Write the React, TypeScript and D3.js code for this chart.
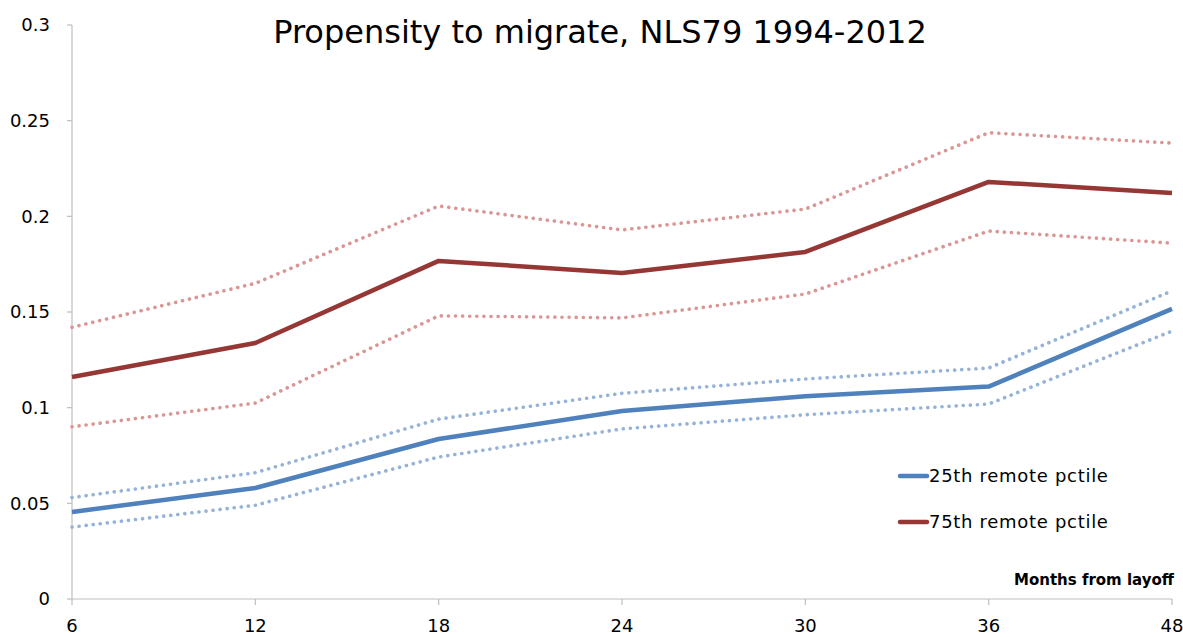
import React, { useEffect, useRef } from "react";
import * as d3 from "d3";

const months = ["6", "12", "18", "24", "30", "36", "48"];
const yTicks = [0, 0.05, 0.1, 0.15, 0.2, 0.25, 0.3];

const low25 = [0.0455, 0.058, 0.0836, 0.0983, 0.106, 0.111, 0.1516];
const low25Upper = [0.053, 0.066, 0.094, 0.1075, 0.115, 0.1207, 0.161];
const low25Lower = [0.0376, 0.049, 0.0742, 0.0889, 0.0963, 0.1019, 0.140];

const high75 = [0.116, 0.1338, 0.1767, 0.1704, 0.1814, 0.218, 0.2122];
const high75Upper = [0.142, 0.165, 0.2054, 0.1929, 0.2038, 0.2437, 0.2383];
const high75Lower = [0.090, 0.1024, 0.148, 0.1469, 0.1594, 0.1923, 0.186];

const W = 1183;
const H = 637;
const FONT = "'DejaVu Sans', sans-serif";

const App = () => {
  const ref = useRef<SVGSVGElement>(null);

  useEffect(() => {
    if (!ref.current) return;
    const svg = d3.select(ref.current);
    svg.selectAll("*").remove();

    const x = d3.scalePoint<string>().domain(months).range([72, 1172]);
    const y = d3.scaleLinear().domain([0, 0.3]).range([599, 25]);

    // axes
    const axisColor = "#bfbfbf";
    svg.append("line")
      .attr("x1", 72).attr("x2", 72).attr("y1", y(0.3)).attr("y2", y(0))
      .attr("stroke", axisColor).attr("stroke-width", 1.2);
    svg.append("line")
      .attr("x1", 72).attr("x2", 1172).attr("y1", y(0)).attr("y2", y(0))
      .attr("stroke", axisColor).attr("stroke-width", 1.2);

    svg.append("g").selectAll("line").data(yTicks).join("line")
      .attr("x1", 67).attr("x2", 72)
      .attr("y1", (d) => y(d)).attr("y2", (d) => y(d))
      .attr("stroke", axisColor).attr("stroke-width", 1.2);
    svg.append("g").selectAll("text").data(yTicks).join("text")
      .attr("x", 50).attr("y", (d) => y(d))
      .attr("dy", "0.35em")
      .attr("text-anchor", "end")
      .attr("font-family", FONT).attr("font-size", 18)
      .text((d) => String(d));

    svg.append("g").selectAll("line").data(months).join("line")
      .attr("x1", (d) => x(d)!).attr("x2", (d) => x(d)!)
      .attr("y1", y(0)).attr("y2", y(0) + 6)
      .attr("stroke", axisColor).attr("stroke-width", 1.2);
    svg.append("g").selectAll("text").data(months).join("text")
      .attr("x", (d) => x(d)!).attr("y", 632)
      .attr("text-anchor", "middle")
      .attr("font-family", FONT).attr("font-size", 18)
      .text((d) => d);

    const line = d3.line<number>()
      .x((_, i) => x(months[i])!)
      .y((d) => y(d));

    const series = [
      { data: low25Upper, color: "#95b3d7", dotted: true },
      { data: low25Lower, color: "#95b3d7", dotted: true },
      { data: high75Upper, color: "#d99694", dotted: true },
      { data: high75Lower, color: "#d99694", dotted: true },
      { data: low25, color: "#4f81bd", dotted: false },
      { data: high75, color: "#953735", dotted: false },
    ];

    svg.append("g").selectAll("path").data(series).join("path")
      .attr("d", (s) => line(s.data))
      .attr("fill", "none")
      .attr("stroke", (s) => s.color)
      .attr("stroke-width", (s) => (s.dotted ? 3.6 : 4.5))
      .attr("stroke-linecap", (s) => (s.dotted ? "round" : "butt"))
      .attr("stroke-linejoin", "round")
      .attr("stroke-dasharray", (s) => (s.dotted ? "0.1 7" : null));

    // title
    svg.append("text")
      .attr("x", 600).attr("y", 43)
      .attr("text-anchor", "middle")
      .attr("font-family", FONT).attr("font-size", 32)
      .text("Propensity to migrate, NLS79 1994-2012");

    // legend
    const legend = [
      { label: "25th remote pctile", color: "#4f81bd" },
      { label: "75th remote pctile", color: "#953735" },
    ];
    const lg = svg.append("g").selectAll("g").data(legend).join("g")
      .attr("transform", (_, i) => `translate(900, ${476 + i * 46})`);
    lg.append("line")
      .attr("x1", 0).attr("x2", 27)
      .attr("stroke", (d) => d.color).attr("stroke-width", 4.5)
      .attr("stroke-linecap", "round");
    lg.append("text")
      .attr("x", 29).attr("dy", "0.35em")
      .attr("font-family", FONT).attr("font-size", 18)
      .attr("letter-spacing", 0.7)
      .text((d) => d.label);

    svg.append("text")
      .attr("x", 1174).attr("y", 585)
      .attr("text-anchor", "end")
      .attr("font-family", FONT).attr("font-size", 15).attr("font-weight", "bold")
      .text("Months from layoff");
  }, []);

  return (
    <svg
      ref={ref}
      width={W}
      height={H}
      style={{ position: "absolute", left: 0, top: 0, background: "#fff" }}
    />
  );
};

export default App;
